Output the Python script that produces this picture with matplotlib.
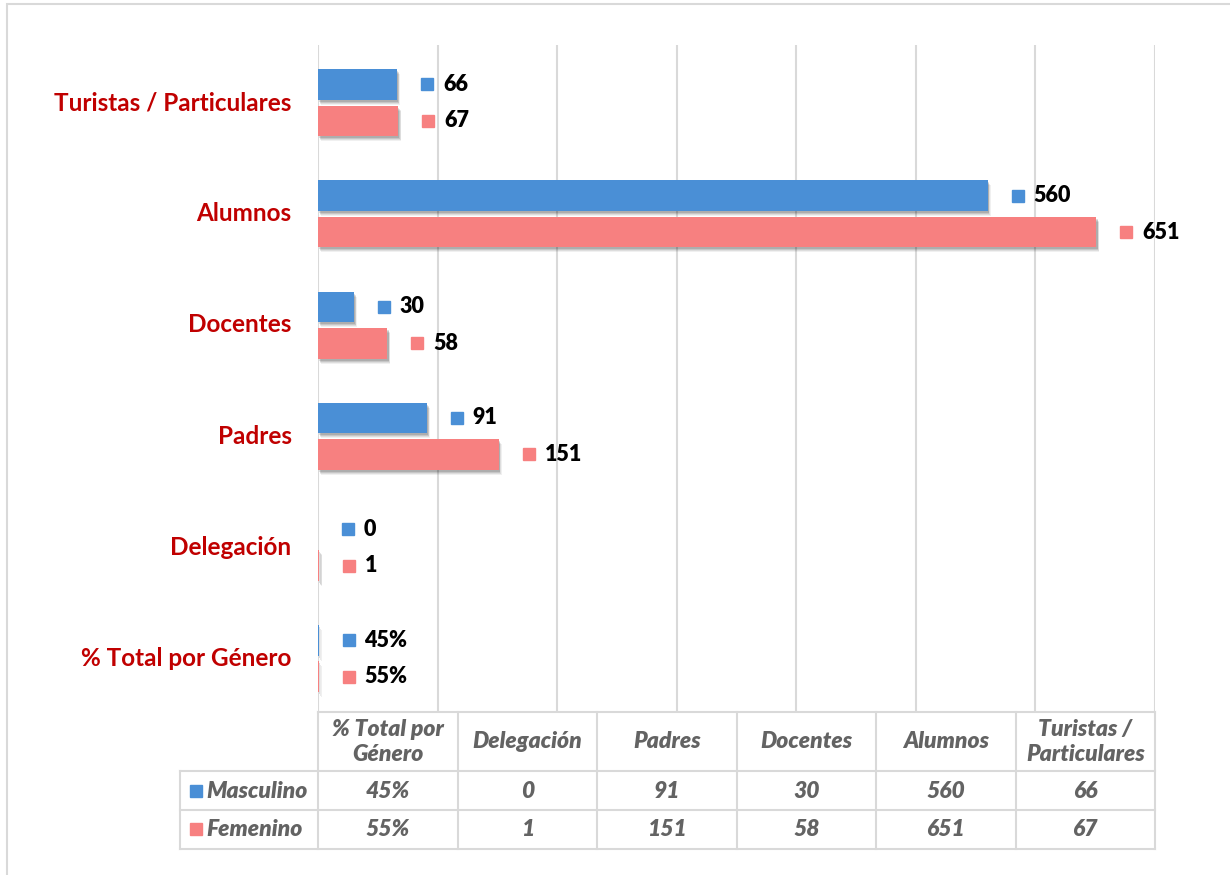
import matplotlib.pyplot as plt
import matplotlib.transforms as mtransforms
import numpy as np

plt.rcParams['font.family'] = ['Lato', 'DejaVu Sans']

# data (bottom to top on the chart, left to right in the table)
categories = ['% Total por Género', 'Delegación', 'Padres', 'Docentes', 'Alumnos', 'Turistas / Particulares']
table_headers = ['% Total por\nGénero', 'Delegación', 'Padres', 'Docentes', 'Alumnos', 'Turistas /\nParticulares']
masculino = [0.45, 0, 91, 30, 560, 66]
femenino = [0.55, 1, 151, 58, 651, 67]
masc_labels = ['45%', '0', '91', '30', '560', '66']
fem_labels = ['55%', '1', '151', '58', '651', '67']
series_names = ['Masculino', 'Femenino']

blue = '#4a8fd6'
pink = '#f78080'
grid_c = '#d9d9d9'
txt_gray = '#636363'
red = '#c00000'

W, H = 1230, 875
fig = plt.figure(figsize=(W / 100, H / 100), dpi=100)
ax = fig.add_axes([318 / W, 1 - 712 / H, 837 / W, 667 / H])

y = np.arange(len(categories))
off_m = 0.145
off_f = -0.183
h = 0.275

# soft shadow under bars
for k, a in [(5, 0.06), (4, 0.08), (3, 0.1), (2, 0.12)]:
    shadow = mtransforms.offset_copy(ax.transData, fig=fig, x=k * 0.6, y=-k, units='dots')
    ax.barh(y + off_m, masculino, height=h, color='black', alpha=a, transform=shadow,
            zorder=2, linewidth=0)
    ax.barh(y + off_f, femenino, height=h, color='black', alpha=a, transform=shadow,
            zorder=2, linewidth=0)
ax.barh(y + off_m, masculino, height=h, color=blue, zorder=3)
ax.barh(y + off_f, femenino, height=h, color=pink, zorder=3)

# value labels with small colour key
for vals, labs, c, dy in [(masculino, masc_labels, blue, off_m), (femenino, fem_labels, pink, off_f)]:
    for yi, v, lab in zip(y, vals, labs):
        tm = mtransforms.offset_copy(ax.transData, fig=fig, x=30, y=0, units='dots')
        ax.plot([v], [yi + dy], marker='s', markersize=9, color=c, transform=tm,
                linestyle='none', zorder=4, clip_on=False)
        ax.annotate(lab, (v, yi + dy), xytext=(46 * 0.72, 0), textcoords='offset points',
                    ha='left', va='center', fontsize=15.5, fontweight='heavy', color='black')

ax.set_xlim(0, 700)
ax.set_ylim(-0.5, len(categories) - 0.5)
ax.set_xticks(np.arange(0, 701, 100))
ax.set_xticklabels([])
ax.tick_params(axis='x', length=0)
ax.set_yticks(y)
ax.set_yticklabels(categories, color=red, fontsize=17.5, fontweight='bold')
ax.tick_params(axis='y', length=0, pad=19)
ax.grid(axis='x', color=grid_c, linewidth=1.5, zorder=0)
ax.set_axisbelow(True)
for s in ax.spines.values():
    s.set_visible(False)

# data table under the axis
tr = mtransforms.blended_transform_factory(ax.transAxes, fig.transFigure)
def fy(px):
    return 1 - px / H

x_left = (180 - 318) / 837
ncol = len(categories)
row_top = [712, 771, 810, 849]
lk = dict(color=grid_c, linewidth=1.5, transform=tr, clip_on=False)

ax.plot([0, 1], [fy(712), fy(712)], **lk)
for r in row_top[1:]:
    ax.plot([x_left, 1], [fy(r), fy(r)], **lk)
for i in range(ncol + 1):
    ax.plot([i / ncol, i / ncol], [fy(712), fy(849)], **lk)
ax.plot([x_left, x_left], [fy(771), fy(849)], **lk)

tk = dict(transform=tr, ha='center', va='center', fontsize=16.5, fontweight='heavy',
          style='italic', color=txt_gray)
for i, head in enumerate(table_headers):
    xc = (i + 0.5) / ncol
    ax.text(xc, fy(742), head, linespacing=1.25, **tk)
    ax.text(xc, fy(791), masc_labels[i] if i == 0 else str(masculino[i]), **tk)
    ax.text(xc, fy(829), fem_labels[i] if i == 0 else str(femenino[i]), **tk)

for name, c, ry in [(series_names[0], blue, 791), (series_names[1], pink, 829)]:
    ax.plot([(196 - 318) / 837], [fy(ry)], marker='s', markersize=9, color=c,
            transform=tr, clip_on=False, linestyle='none')
    ax.text((206 - 318) / 837, fy(ry), name, transform=tr, ha='left', va='center',
            fontsize=16.5, fontweight='heavy', style='italic', color=txt_gray)

# chart area border (cut off at right and bottom)
fig.patches.append(plt.Rectangle((7 / W, -0.1), 1.2, fy(4) + 0.1, transform=fig.transFigure,
                                 fill=False, edgecolor=grid_c, linewidth=1.5))

fig.savefig('out.png', dpi=100)
